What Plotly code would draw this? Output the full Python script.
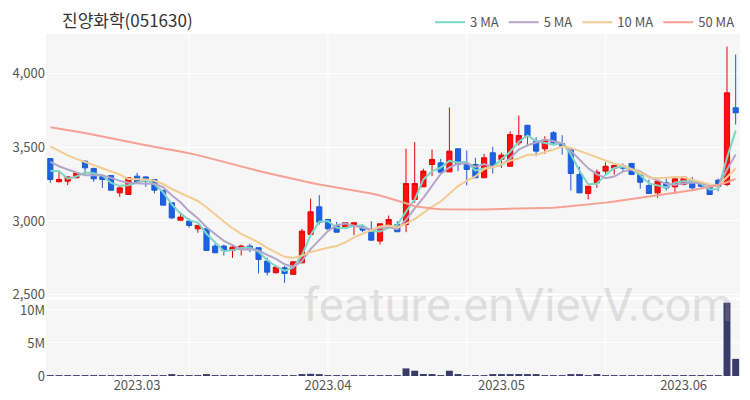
import pandas as pd
import plotly.graph_objects as go

# ---------------- data ----------------
dates = (
    ["2023-02-15", "2023-02-16", "2023-02-17", "2023-02-20", "2023-02-21", "2023-02-22",
     "2023-02-23", "2023-02-24", "2023-02-27", "2023-02-28"]
    + ["2023-03-02", "2023-03-03", "2023-03-06", "2023-03-07", "2023-03-08", "2023-03-09",
       "2023-03-10", "2023-03-13", "2023-03-14", "2023-03-15", "2023-03-16", "2023-03-17",
       "2023-03-20", "2023-03-21", "2023-03-22", "2023-03-23", "2023-03-24", "2023-03-27",
       "2023-03-28", "2023-03-29", "2023-03-30", "2023-03-31"]
    + ["2023-04-03", "2023-04-04", "2023-04-05", "2023-04-06", "2023-04-07", "2023-04-10",
       "2023-04-11", "2023-04-12", "2023-04-13", "2023-04-14", "2023-04-17", "2023-04-18",
       "2023-04-19", "2023-04-20", "2023-04-21", "2023-04-24", "2023-04-25", "2023-04-26",
       "2023-04-27", "2023-04-28"]
    + ["2023-05-02", "2023-05-03", "2023-05-04", "2023-05-08", "2023-05-09", "2023-05-10",
       "2023-05-11", "2023-05-12", "2023-05-15", "2023-05-16", "2023-05-17", "2023-05-18",
       "2023-05-19", "2023-05-22", "2023-05-23", "2023-05-24", "2023-05-25", "2023-05-26",
       "2023-05-29", "2023-05-30", "2023-05-31"]
    + ["2023-06-01", "2023-06-02", "2023-06-05", "2023-06-07", "2023-06-08", "2023-06-09",
       "2023-06-12"]
)

open_ = [3422, 3265, 3269, 3292, 3404, 3355, 3300, 3307, 3190, 3179,
         3303, 3298, 3280, 3206, 3123, 3005, 2999, 2947, 2947, 2830,
         2830, 2801, 2808, 2830, 2819, 2729, 2650, 2684, 2639, 2717,
         2909, 3096, 3010, 2970, 2954, 2965, 2961, 2943, 2864, 2972,
         2976, 2976, 3145, 3231, 3382, 3393, 3332, 3488, 3382, 3382,
         3292, 3461, 3416, 3370, 3528, 3647, 3539, 3488, 3596, 3522,
         3483, 3314, 3186, 3258, 3337, 3357, 3375, 3389, 3314, 3240,
         3190, 3258, 3231, 3247, 3276, 3253, 3235, 3276, 3247, 3765]
high = [3425, 3341, 3298, 3325, 3410, 3360, 3314, 3307, 3235, 3292,
        3325, 3303, 3280, 3213, 3123, 3060, 3017, 2970, 2947, 2853,
        2840, 2840, 2840, 2846, 2819, 2752, 2700, 2696, 2724, 2947,
        3152, 3175, 3015, 2994, 2990, 2990, 2977, 2999, 2981, 3037,
        2999, 3488, 3533, 3353, 3483, 3420, 3767, 3488, 3476, 3427,
        3454, 3501, 3461, 3607, 3713, 3647, 3566, 3573, 3607, 3580,
        3490, 3366, 3235, 3348, 3397, 3375, 3389, 3389, 3320, 3280,
        3275, 3285, 3290, 3296, 3298, 3262, 3240, 3285, 4179, 4125]
low = [3258, 3262, 3242, 3292, 3307, 3265, 3224, 3208, 3163, 3179,
       3253, 3231, 3186, 3107, 3014, 3005, 2954, 2920, 2801, 2785,
       2767, 2751, 2767, 2789, 2645, 2632, 2645, 2582, 2639, 2717,
       2909, 2976, 2938, 2924, 2950, 2904, 2924, 2870, 2841, 2968,
       2927, 2924, 3123, 3231, 3303, 3325, 3332, 3337, 3240, 3292,
       3292, 3321, 3359, 3366, 3510, 3505, 3438, 3454, 3510, 3449,
       3206, 3190, 3145, 3224, 3307, 3314, 3337, 3310, 3218, 3186,
       3157, 3206, 3184, 3240, 3208, 3224, 3179, 3201, 3235, 3652]
close = [3280, 3280, 3298, 3325, 3359, 3285, 3280, 3208, 3224, 3292,
         3265, 3269, 3208, 3107, 3021, 3026, 2970, 2970, 2801, 2785,
         2801, 2823, 2830, 2808, 2740, 2654, 2688, 2645, 2724, 2931,
         3062, 2992, 2947, 2924, 2988, 2988, 2938, 2870, 2981, 3010,
         2927, 3253, 3253, 3337, 3416, 3330, 3472, 3382, 3348, 3292,
         3427, 3375, 3445, 3584, 3578, 3573, 3472, 3546, 3528, 3505,
         3321, 3190, 3235, 3330, 3370, 3375, 3357, 3314, 3262, 3186,
         3269, 3224, 3285, 3296, 3224, 3235, 3179, 3235, 3866, 3731]
volume = [120e3, 90e3, 80e3, 70e3, 110e3, 100e3, 80e3, 120e3, 90e3, 110e3,
          100e3, 80e3, 90e3, 130e3, 150e3, 90e3, 80e3, 70e3, 160e3, 110e3,
          90e3, 80e3, 70e3, 80e3, 130e3, 120e3, 90e3, 110e3, 100e3, 260e3,
          330e3, 200e3, 120e3, 90e3, 80e3, 70e3, 110e3, 90e3, 100e3, 80e3,
          120e3, 1150e3, 800e3, 300e3, 220e3, 110e3, 800e3, 150e3, 120e3, 100e3,
          110e3, 180e3, 150e3, 260e3, 300e3, 200e3, 160e3, 120e3, 130e3, 110e3,
          180e3, 160e3, 120e3, 150e3, 130e3, 110e3, 90e3, 120e3, 130e3, 110e3,
          120e3, 100e3, 110e3, 120e3, 100e3, 90e3, 90e3, 100e3, 11.1e6, 2.6e6]

# moving-average values before a full window is available
ma3_head = [3340, 3336]
ma5_head = [3400, 3370, 3348, 3330]
ma10_head = [3505, 3472, 3443, 3420, 3398, 3375, 3353, 3332, 3314]
# 50-day MA (needs history not shown)
ma50 = [3634, 3625, 3615, 3604, 3594, 3583, 3572, 3562, 3550, 3538,
        3524, 3512, 3500, 3490, 3480, 3470, 3460, 3445, 3430, 3414,
        3398, 3382, 3366, 3352, 3338, 3324, 3310, 3296, 3282, 3270,
        3258, 3246, 3236, 3228, 3220, 3210, 3198, 3186, 3172, 3156,
        3138, 3120, 3100, 3090, 3084, 3080, 3078, 3077, 3077, 3077,
        3078, 3079, 3080, 3081, 3082, 3083, 3085, 3087, 3090, 3094,
        3099, 3104, 3110, 3117, 3124, 3131, 3139, 3147, 3155, 3163,
        3172, 3181, 3190, 3199, 3208, 3218, 3230, 3243, 3262, 3285]

tick_vals = ["2023-03-02", "2023-04-03", "2023-05-02", "2023-06-01"]
tick_text = ["2023.03", "2023.04", "2023.05", "2023.06"]
price_ticks = [2500, 3000, 3500, 4000]
vol_ticks = [0, 5e6, 10e6]
vol_tick_text = ["0", "5M", "10M"]

title_text = "진양화학(051630)"
watermark = "feature.enVievV.com"

# ---------------- derived series ----------------
c = pd.Series(close, dtype=float)
ma3 = c.rolling(3).mean()
ma3.iloc[:len(ma3_head)] = ma3_head
ma5 = c.rolling(5).mean()
ma5.iloc[:len(ma5_head)] = ma5_head
ma10 = c.rolling(10).mean()
ma10.iloc[:len(ma10_head)] = ma10_head

FONT = "Noto Sans CJK KR, Roboto, sans-serif"
PRICE_DOM = [0.231, 1.0]
VOL_DOM = [0.0, 0.222]

# the page body has an 8px margin, so the figure is drawn 8px smaller
W, H, OFF = 742, 392, 8

fig = go.Figure()

ma_specs = [("3 MA", ma3, "#7dd5c6"), ("5 MA", ma5, "#b3a6c9"),
            ("10 MA", ma10, "#f3cb93"), ("50 MA", ma50, "#f6a194")]
for name, series, color in ma_specs:
    fig.add_trace(go.Scatter(x=dates, y=list(series), mode="lines", name=name,
                             line=dict(color=color, width=2),
                             xaxis="x", yaxis="y", hoverinfo="skip"))

fig.add_trace(go.Candlestick(
    x=dates, open=open_, high=high, low=low, close=close,
    increasing=dict(line=dict(color="#e80000", width=1), fillcolor="#ff1010"),
    decreasing=dict(line=dict(color="#1f5bd6", width=1), fillcolor="#1c63e4"),
    showlegend=False, xaxis="x", yaxis="y", whiskerwidth=0))

fig.add_trace(go.Bar(x=dates, y=volume, marker=dict(color="#3a3c68", line=dict(width=0)),
                     showlegend=False, xaxis="x2", yaxis="y2"))

# vertical grid lines (every 16 sessions)
shapes = []
for i in range(16, len(dates), 16):
    for yref in ("y domain", "y2 domain"):
        shapes.append(dict(type="line", xref="x", yref=yref, x0=dates[i], x1=dates[i],
                           y0=0, y1=1, layer="below",
                           line=dict(color="#ffffff", width=1)))

fig.update_layout(
    width=W, height=H,
    margin=dict(l=46 - OFF, r=10, t=34 - OFF, b=24, autoexpand=False),
    paper_bgcolor="#ffffff",
    plot_bgcolor="#f6f6f6",
    font=dict(family=FONT, size=12, color="#555555"),
    title=dict(text=title_text, x=(62 - OFF) / W, xref="container", xanchor="left",
               y=1 - (21 - OFF) / H, yref="container", yanchor="middle",
               font=dict(family=FONT, size=17, color="#333333")),
    showlegend=True,
    legend=dict(orientation="h", x=1.0, xanchor="right", y=1.034, yanchor="middle",
                font=dict(family=FONT, size=13, color="#555555"),
                bgcolor="rgba(0,0,0,0)", itemwidth=30, tracegroupgap=0),
    bargap=0.2,
    boxgap=0.15,
    shapes=shapes,
    xaxis=dict(type="category", domain=[0, 1], anchor="y", range=[-0.5, len(dates) - 0.5],
               showticklabels=False, showgrid=False, zeroline=False, automargin=False,
               rangeslider=dict(visible=False), categoryorder="array", categoryarray=dates),
    xaxis2=dict(type="category", domain=[0, 1], anchor="y2", matches="x",
                range=[-0.5, len(dates) - 0.5], automargin=False,
                tickmode="array", tickvals=tick_vals, ticktext=tick_text,
                showgrid=False, zeroline=False, ticks="",
                tickfont=dict(family=FONT, size=13, color="#555555"),
                categoryorder="array", categoryarray=dates),
    yaxis=dict(domain=PRICE_DOM, anchor="x", range=[2486, 4264], automargin=False,
               tickmode="array", tickvals=price_ticks, tickformat=",",
               showgrid=True, gridcolor="#ffffff", gridwidth=1, zeroline=False,
               ticks="", tickfont=dict(family=FONT, size=13, color="#555555")),
    yaxis2=dict(domain=VOL_DOM, anchor="x2", range=[0, 11.5e6], automargin=False,
                tickmode="array", tickvals=vol_ticks, ticktext=vol_tick_text,
                showgrid=True, gridcolor="#ffffff", gridwidth=1, zeroline=False,
                ticks="", tickfont=dict(family=FONT, size=13, color="#555555")),
    annotations=[dict(text=watermark, xref="paper", yref="paper", x=0.68, y=0.21,
                      xanchor="center", yanchor="middle", showarrow=False,
                      font=dict(family="Roboto, sans-serif", size=47,
                                color="rgba(160,160,160,0.3)"))],
)

fig.write_html("out.html")
